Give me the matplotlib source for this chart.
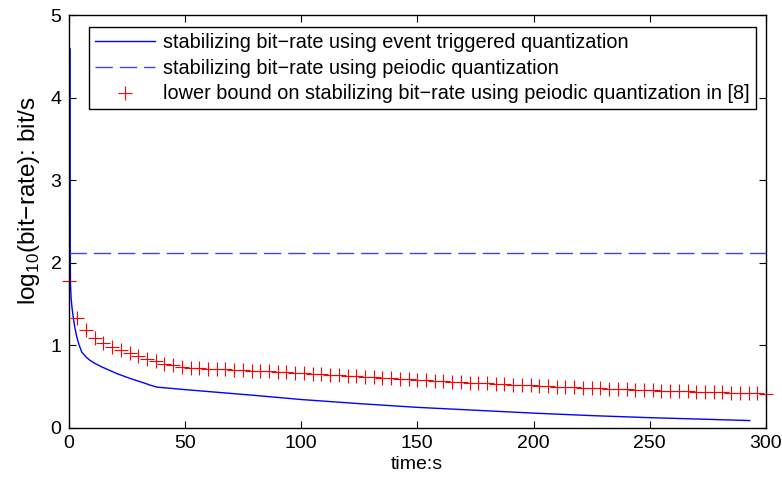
import numpy as np
import matplotlib
matplotlib.use("Agg")
import matplotlib.pyplot as plt

plt.rcParams['font.family'] = ['Liberation Sans', 'DejaVu Sans']
plt.rcParams['mathtext.fontset'] = 'custom'
plt.rcParams['mathtext.rm'] = 'Liberation Sans'

# Event-triggered quantization bit-rate (log10)
event_t = [0.7, 0.72, 0.75, 0.85, 1.1, 1.5, 2.0, 2.7, 3.5, 4.5, 5.7, 7.5, 9.2, 11.5, 14.3,
           17.5, 20.7, 24.5, 28.6, 32, 35, 38, 50, 65, 80, 100, 125, 150, 175, 200,
           225, 250, 275, 293]
event_rate = [4.59, 3.0, 2.1, 1.75, 1.58, 1.46, 1.35, 1.22, 1.11, 1.01, 0.92, 0.86, 0.82,
              0.78, 0.74, 0.70, 0.66, 0.62, 0.58, 0.55, 0.52, 0.495, 0.465, 0.43, 0.395,
              0.345, 0.295, 0.25, 0.215, 0.18, 0.15, 0.125, 0.105, 0.09]

# Periodic quantization bit-rate (constant, log10)
periodic_t = [0, 300]
periodic_rate = [2.12, 2.12]

# Lower bound from [8] (markers every 3.75 s)
bound_t = [i * 3.75 for i in range(81)]
bound_rate = [1.78, 1.335, 1.19, 1.09, 1.03, 0.98, 0.94, 0.91, 0.87, 0.835, 0.81, 0.78,
              0.76, 0.735, 0.73, 0.725, 0.72, 0.715, 0.71, 0.705, 0.70, 0.695, 0.69,
              0.685, 0.68, 0.672, 0.665, 0.66, 0.655, 0.648, 0.642, 0.636, 0.63, 0.624,
              0.618, 0.612, 0.606, 0.60, 0.594, 0.588, 0.582, 0.576, 0.57, 0.565, 0.56,
              0.555, 0.55, 0.545, 0.54, 0.535, 0.53, 0.525, 0.52, 0.515, 0.51, 0.505,
              0.50, 0.496, 0.492, 0.488, 0.484, 0.48, 0.476, 0.472, 0.468, 0.464, 0.46,
              0.456, 0.452, 0.448, 0.445, 0.442, 0.439, 0.436, 0.433, 0.43, 0.427,
              0.424, 0.421, 0.418, 0.415]

labels = ["stabilizing bit\u2212rate using event triggered quantization",
          "stabilizing bit\u2212rate using peiodic quantization",
          "lower bound on stabilizing bit\u2212rate using peiodic quantization in [8]"]

FS = 14

fig = plt.figure(figsize=(7.82, 4.80), dpi=100)
ax = fig.add_axes([68.5 / 782, 1 - 428 / 480, (766 - 68.5) / 782, (428 - 15) / 480])

ax.plot(event_t, event_rate, color=(0, 0, 1), lw=1.0, label=labels[0])
ax.plot(periodic_t, periodic_rate, color=(0.25, 0.25, 1), lw=1.0,
        linestyle=(0, (12.5, 5)), label=labels[1])
ax.plot(bound_t, bound_rate, linestyle='none', marker='+', color=(1, 0, 0),
        markersize=10, markeredgewidth=0.8, clip_on=False, label=labels[2])

ax.set_xlim(0, 300)
ax.set_ylim(0, 5)
ax.set_xticks([0, 50, 100, 150, 200, 250, 300])
ax.set_yticks([0, 1, 2, 3, 4, 5])
ax.tick_params(direction='in', length=5, width=0.8, top=True, right=True,
               labelsize=FS, pad=5)
for s in ax.spines.values():
    s.set_linewidth(1.0)

ax.set_xlabel("time:s", fontsize=FS, labelpad=3)
ax.set_ylabel("log$_{\\mathregular{10}}$(bit\u2212rate): bit/s", fontsize=17.5, labelpad=0)
ax.yaxis.set_label_coords(-(68.5 - 42) / 697.5, (428 - 201) / 413)

leg = ax.legend(loc='upper left',
                bbox_to_anchor=((89 - 68.5) / 697.5, (428 - 27) / 413),
                borderaxespad=0, fontsize=14.3, frameon=True, fancybox=False,
                edgecolor='black', framealpha=1, handlelength=3.0,
                handletextpad=0.45, borderpad=0.3, labelspacing=0.34)
leg.get_frame().set_linewidth(1.0)

fig.savefig("out.png", dpi=100)
